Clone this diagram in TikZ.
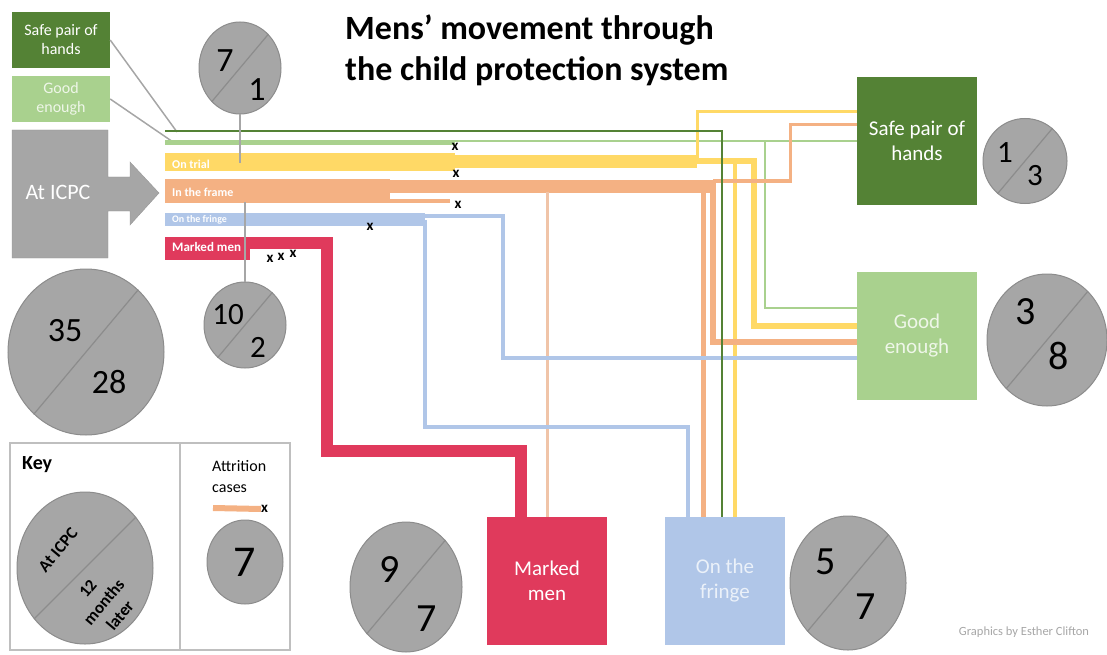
\documentclass[tikz,border=0pt]{standalone}
\usepackage{fontspec}
\setmainfont{Carlito}
\usetikzlibrary{positioning,shapes.geometric}

\definecolor{scuro}{HTML}{548235}
\definecolor{chiaro}{HTML}{A9D18E}
\definecolor{giallo}{HTML}{FFD966}
\definecolor{arancio}{HTML}{F4B183}
\definecolor{pallido}{HTML}{F0C4A8}
\definecolor{blu}{HTML}{B0C6E8}
\definecolor{rosso}{HTML}{E03A5C}
\definecolor{grigio}{HTML}{A6A6A6}
\definecolor{grigioscuro}{HTML}{8C8C8C}
\definecolor{grigiochiaro}{HTML}{BFBFBF}

\begin{document}
\begin{tikzpicture}[x=1pt, y=-1pt]
	% Stili del diagramma
	\tikzset{
		riquadro/.style={minimum width=120pt, minimum height=128pt, inner sep=0pt, align=center, font=\fontsize{21}{25}\selectfont},
		etichetta/.style={minimum width=98pt, inner sep=0pt, align=center, text=white, font=\fontsize{16}{19}\selectfont},
		cerchio/.style={ellipse, fill=grigio, draw=grigioscuro, line width=1pt, inner sep=0pt},
		diag/.style={draw=grigioscuro, line width=1.2pt},
		cifra/.style={inner sep=0pt, font=\fontsize{34}{34}\selectfont},
		barra/.style={anchor=west, inner sep=0pt, text=white, font=\fontsize{12}{12}\selectfont\bfseries},
		perso/.style={inner sep=0pt, font=\fontsize{15}{15}\selectfont\bfseries},
		guida/.style={draw=grigio, line width=1.8pt},
	}
	\useasboundingbox (0,0) rectangle (1107,655);
	
	% Titolo
	\node[anchor=base west, inner sep=0pt, font=\fontsize{34}{34}\selectfont\bfseries] (tit1) at (345,40) {Mens’ movement through};
	\node[anchor=base west, inner sep=0pt, font=\fontsize{34}{34}\selectfont\bfseries] (tit2) at (345,81) {the child protection system};
	
	% Etichette a sinistra e freccia di partenza
	\node[etichetta, fill=scuro, minimum height=56pt] (tagSafe) at (61,40) {Safe pair of\\hands};
	\node[etichetta, fill=chiaro, minimum height=46pt, text=white!80!chiaro] (tagGood) at (61,99) {Good\\enough};
	\filldraw[fill=grigio, draw=grigioscuro!60!grigio] (12,130) -- (108,130) -- (108,177) -- (130,177) -- (130,162) -- (159,193)
		-- (130,225) -- (130,211) -- (108,211) -- (108,258) -- (12,258) -- cycle;
	\node[text=white, font=\fontsize{22}{22}\selectfont] (icpc) at (58,192) {At ICPC};
	
	% Destinazioni
	\node[riquadro, fill=scuro, text=white] (safe) at (917,141) {Safe pair of\\hands};
	\node[riquadro, fill=chiaro, text=white!80!chiaro] (good) at (917,336) {Good\\enough};
	\node[riquadro, fill=rosso, text=white] (marked) at (547,581) {Marked\\men};
	\node[riquadro, fill=blu, text=white!75!blu] (fringe) at (725,581) {On the\\fringe};
	
	% Cerchi con i conteggi
	\node[cerchio, minimum width=82pt, minimum height=92pt] (c71) at (240,68) {};
	\node[cerchio, minimum width=82pt, minimum height=86pt] (c102) at (245,325) {};
	\node[cerchio, minimum width=156pt, minimum height=166pt] (c35) at (86,352) {};
	\node[cerchio, minimum width=84pt, minimum height=85pt] (c13) at (1025,161) {};
	\node[cerchio, minimum width=120pt, minimum height=132pt] (c38) at (1047,340) {};
	\node[cerchio, minimum width=112pt, minimum height=130pt] (c97) at (406,587) {};
	\node[cerchio, minimum width=116pt, minimum height=134pt] (c57) at (848,583) {};
	\foreach \c in {c71,c102,c35,c13,c38,c97,c57}
		\draw[diag] (\c.230) -- (\c.50);
	
	\node[cifra] (n7a) at (225,61) {7};
	\node[cifra] (n1a) at (257,90) {1};
	\node[cifra, font=\fontsize{31}{31}\selectfont] (n10) at (228,315) {10};
	\node[cifra, font=\fontsize{31}{31}\selectfont] (n2) at (258,347) {2};
	\node[cifra] (n35) at (65,331) {35};
	\node[cifra] (n28) at (109,382) {28};
	\node[cifra, font=\fontsize{31}{31}\selectfont] (n1b) at (1005,153) {1};
	\node[cifra, font=\fontsize{31}{31}\selectfont] (n3a) at (1035,176) {3};
	\node[cifra, font=\fontsize{40}{40}\selectfont] (n3b) at (1026,312) {3};
	\node[cifra, font=\fontsize{40}{40}\selectfont] (n8) at (1059,356) {8};
	\node[cifra, font=\fontsize{40}{40}\selectfont] (n9) at (390,570) {9};
	\node[cifra, font=\fontsize{40}{40}\selectfont] (n7b) at (427,619) {7};
	\node[cifra, font=\fontsize{40}{40}\selectfont] (n5) at (826,562) {5};
	\node[cifra, font=\fontsize{40}{40}\selectfont] (n7c) at (866,607) {7};
	
	% Legenda
	\node[draw=grigiochiaro, line width=1.5pt, minimum width=280pt, minimum height=207pt, inner sep=0pt] (key) at (150,546.5) {};
	\draw[grigiochiaro, line width=1.5pt] ([xshift=30pt]key.north) -- ([xshift=30pt]key.south);
	\node[anchor=west, inner sep=0pt, font=\fontsize{20}{20}\selectfont\bfseries] (keyTit) at (22,465) {Key};
	\node[cerchio, minimum width=136pt, minimum height=152pt] (ckey) at (85,568) {};
	\draw[diag] (ckey.225) -- (ckey.45);
	\node[rotate=50, inner sep=0pt, font=\fontsize{17}{17}\selectfont\bfseries] (keyA) at (58,550) {At ICPC};
	\node[rotate=50, inner sep=0pt, align=center, font=\fontsize{17}{21}\selectfont\bfseries] (keyB) at (104,602) {12\\months\\later};
	\node[anchor=west, inner sep=0pt, align=left, font=\fontsize{16}{21}\selectfont] (attr) at (212,477) {Attrition\\cases};
	\coordinate (attrA) at (213,508);
	\node[perso, anchor=west] (attrX) at (261,509) {x};
	\draw[arancio, line width=6pt] (attrA) -- (attrX.west);
	\node[cerchio, minimum width=76pt, minimum height=84pt] (c7) at (245,562) {};
	\node[cifra, font=\fontsize{44}{44}\selectfont] (n7d) at (c7) {7};
	
	% Collegamenti dalle etichette
	\draw[grigio, line width=1.5pt] (tagSafe.east) -- (177,132);
	\draw[grigio, line width=1.5pt] (tagGood.east) -- (173,142);
	
	% Verde chiaro
	\draw[chiaro, line width=5pt] (165,143) -- (455,143);
	\draw[chiaro, line width=2.5pt] (165,141) -- (safe.west);
	\draw[chiaro, line width=2.5pt] (765,141) |- ([yshift=28pt]good.west);
	
	% Giallo: On trial
	\draw[giallo, line width=18pt] (165,162) -- (455,162);
	\draw[giallo, line width=13pt] (455,161.5) -- (697,161.5);
	\draw[giallo, line width=3pt] (697,160) |- ([yshift=29pt]safe.west);
	\draw[giallo, line width=6pt] (690,161) -| (754,250) |- ([yshift=10pt]good.west);
	\draw[giallo, line width=4pt] (735,161) -- ([xshift=10pt]fringe.north);
	
	% Arancio: In the frame
	\draw[arancio, line width=24pt] (165,191) -- (390,191);
	\draw[arancio, line width=13pt] (390,186.5) -- (713,186.5);
	\draw[arancio, line width=4pt] (390,201) -- (450,201);
	\draw[arancio, line width=6pt] (700,186) -| (713,260) |- ([yshift=-6pt]good.west);
	\draw[arancio, line width=3pt] (713,181) -| (790,150) |- ([yshift=16pt]safe.west);
	\draw[arancio, line width=5pt] (703,186) -- ([xshift=-22pt]fringe.north);
	\draw[pallido, line width=3pt] (547,192) -- (marked.north);
	
	% Blu: On the fringe
	\draw[blu, line width=13pt] (165,219.5) -- (425,219.5);
	\draw[blu, line width=4pt] (420,215.5) -| (503,290) |- ([yshift=-22pt]good.west);
	\draw[blu, line width=4pt] (425,220) |- (600,427) -| ([xshift=-37pt]fringe.north);
	
	% Verde scuro
	\draw[scuro, line width=2pt] (165,131) -| ([xshift=-3pt]fringe.north);
	
	% Rosso: Marked men
	\draw[rosso, line width=23pt] (165,248.5) -- (250,248.5);
	\draw[rosso, line width=12pt] (165,243) -| (327,451) -| ([xshift=-26pt]marked.north);
	
	% Linee guida dei cerchi
	\draw[guida] (c71.south) -- ++(0,49);
	\draw[guida] (c102.north) -- ++(0,-80);
	
	% Scritte sulle barre
	\node[barra] (lTrial) at (172,164) {On trial};
	\node[barra] (lFrame) at (172,192) {In the frame};
	\node[barra, font=\fontsize{10}{10}\selectfont\bfseries] (lFringe) at (172,220) {On the fringe};
	\node[barra, font=\fontsize{13}{13}\selectfont\bfseries] (lMarked) at (172,247) {Marked men};
	
	% Casi persi
	\foreach \xx/\yy [count=\i] in {455/147, 456/174, 458/205, 370/227, 270/259, 281/257, 293/254}
		\node[perso] (x\i) at (\xx,\yy) {x};
	
	\node[text=grigio, inner sep=0pt, font=\fontsize{12.5}{12.5}\selectfont] (firma) at (1024,632) {Graphics by Esther Clifton};
\end{tikzpicture}
\end{document}
